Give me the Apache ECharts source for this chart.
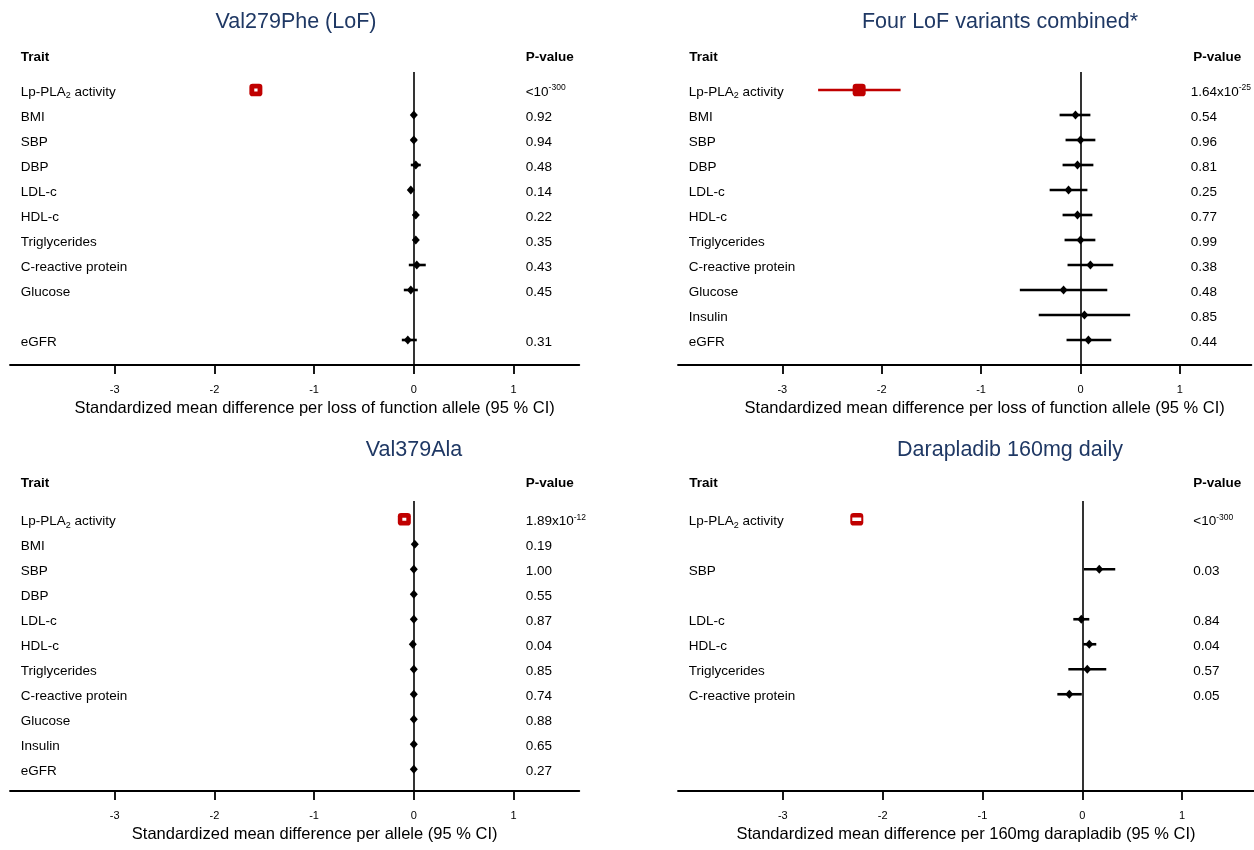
<!DOCTYPE html>
<html><head><meta charset="utf-8">
<script src="https://cdn.jsdelivr.net/npm/echarts@6/dist/echarts.min.js"></script>
<style>html,body{margin:0;padding:0;background:#fff}#c{width:1254px;height:850px}</style>
</head><body><div id="c"></div>
<script>
// ---------- DATA ----------
const traits = ['Lp-PLA2 activity','BMI','SBP','DBP','LDL-c','HDL-c','Triglycerides','C-reactive protein','Glucose','Insulin','eGFR'];
const xTicks = [-3, -2, -1, 0, 1];

const titles = ['Val279Phe (LoF)', 'Four LoF variants combined*', 'Val379Ala', 'Darapladib 160mg daily'];
const axisNames = [
  'Standardized mean difference per loss of function allele (95 % CI)',
  'Standardized mean difference per loss of function allele (95 % CI)',
  'Standardized mean difference per allele (95 % CI)',
  'Standardized mean difference per 160mg darapladib (95 % CI)'
];

// Panel 1: Val279Phe (LoF)  (row = index into traits)
const p1Rows = [0, 1, 2, 3, 4, 5, 6, 7, 8, 10];
const p1Est  = [-1.584, 0.00, 0.00, 0.02, -0.03, 0.02, 0.02, 0.03, -0.03, -0.06];
const p1Lo   = [-1.600, -0.02, -0.03, -0.03, -0.05, 0.00, 0.00, -0.05, -0.10, -0.12];
const p1Hi   = [-1.567, 0.02, 0.03, 0.07, -0.01, 0.04, 0.04, 0.12, 0.04, 0.03];
const p1P    = ['<10^-300', '0.92', '0.94', '0.48', '0.14', '0.22', '0.35', '0.43', '0.45', '0.31'];

// Panel 2: Four LoF variants combined
const p2Rows = [0, 1, 2, 3, 4, 5, 6, 7, 8, 9, 10];
const p2Est  = [-2.227, -0.05, 0.00, -0.03, -0.12, -0.03, 0.00, 0.10, -0.17, 0.04, 0.08];
const p2Lo   = [-2.64, -0.21, -0.15, -0.18, -0.31, -0.18, -0.16, -0.13, -0.61, -0.42, -0.14];
const p2Hi   = [-1.81, 0.10, 0.15, 0.13, 0.07, 0.12, 0.15, 0.33, 0.27, 0.50, 0.31];
const p2P    = ['1.64x10^-25', '0.54', '0.96', '0.81', '0.25', '0.77', '0.99', '0.38', '0.48', '0.85', '0.44'];

// Panel 3: Val379Ala
const p3Rows = [0, 1, 2, 3, 4, 5, 6, 7, 8, 9, 10];
const p3Est  = [-0.095, 0.01, 0.00, 0.00, 0.00, -0.01, 0.00, 0.00, 0.00, 0.00, 0.00];
const p3Lo   = [-0.115, 0.00, -0.01, -0.01, -0.01, -0.02, -0.01, -0.01, -0.01, -0.01, -0.01];
const p3Hi   = [-0.075, 0.02, 0.01, 0.01, 0.01, 0.00, 0.01, 0.01, 0.01, 0.01, 0.01];
const p3P    = ['1.89x10^-12', '0.19', '1.00', '0.55', '0.87', '0.04', '0.85', '0.74', '0.88', '0.65', '0.27'];

// Panel 4: Darapladib 160mg daily
const p4Rows = [0, 2, 4, 5, 6, 7];
const p4Est  = [-2.259, 0.17, -0.01, 0.07, 0.05, -0.13];
const p4Lo   = [-2.304, 0.016, -0.09, 0.01, -0.14, -0.25];
const p4Hi   = [-2.214, 0.33, 0.07, 0.14, 0.24, -0.005];
const p4P    = ['<10^-300', '0.03', '0.84', '0.04', '0.57', '0.05'];

// ---------- LAYOUT / STYLE ----------
const FONT = '"Liberation Sans", Arial, Helvetica, sans-serif';
const TITLE_COLOR = '#1F3864';
const RED = '#c00000';
const layouts = [
  {grid:{left:10, top:72, width:569.3, height:293}, xMin:-4.05, xMax:1.66, yMin:-0.72, yMax:11.0, pMargin:53.6,
   title:[296,22], hdrTraitX:20.7, hdrPX:525.7, hdrY:57.3, nameShift:20, lpBar:'#ffffff', lpBarW:3},
  {grid:{left:678, top:72, width:576, height:293}, xMin:-4.05, xMax:1.72, yMin:-0.72, yMax:11.0, pMargin:60.7,
   title:[1000,22], hdrTraitX:689.3, hdrPX:1193.3, hdrY:57.3, nameShift:20, lpBar:RED, lpBarW:2.5},
  {grid:{left:10, top:501, width:569.3, height:290}, xMin:-4.05, xMax:1.66, yMin:-0.73, yMax:10.87, pMargin:53.6,
   title:[414,450], hdrTraitX:20.7, hdrPX:525.7, hdrY:483.3, nameShift:20, lpBar:'#ffffff', lpBarW:3},
  {grid:{left:678, top:501, width:576, height:290}, xMin:-4.05, xMax:1.72, yMin:-0.73, yMax:10.87, pMargin:60.7,
   title:[1010,450], hdrTraitX:689.3, hdrPX:1193.3, hdrY:483.3, nameShift:0, lpBar:'#ffffff', lpBarW:3.5}
];

const panels = [
  {rows:p1Rows, est:p1Est, lo:p1Lo, hi:p1Hi, p:p1P},
  {rows:p2Rows, est:p2Est, lo:p2Lo, hi:p2Hi, p:p2P},
  {rows:p3Rows, est:p3Est, lo:p3Lo, hi:p3Hi, p:p3P},
  {rows:p4Rows, est:p4Est, lo:p4Lo, hi:p4Hi, p:p4P}
];

function traitRich(name) {
  return name.replace('PLA2', 'PLA{sub|2}');
}
function pRich(s) {
  const i = s.indexOf('^');
  if (i < 0) return s;
  return s.slice(0, i) + '{sup|' + s.slice(i + 1) + '}';
}
const labelRich = {
  sub: {fontSize: 9, lineHeight: 9, verticalAlign: 'bottom', fontFamily: FONT, color: '#000'},
  sup: {fontSize: 8.5, lineHeight: 9, verticalAlign: 'top', fontFamily: FONT, color: '#000'}
};

const grids = [], xAxes = [], yAxes = [], series = [], graphics = [];

function ciRender(color, width) {
  return function (params, api) {
    const y = api.value(2);
    const a = api.coord([api.value(0), y]);
    const b = api.coord([api.value(1), y]);
    return {type: 'line', shape: {x1: a[0], y1: a[1], x2: b[0], y2: b[1]},
            style: {stroke: color, lineWidth: width}};
  };
}

panels.forEach((pd, k) => {
  const L = layouts[k];
  grids.push(Object.assign({containLabel: false}, L.grid));
  xAxes.push({
    gridIndex: k, type: 'value', min: L.xMin, max: L.xMax,
    axisLine: {onZero: false, lineStyle: {color: '#000', width: 1.8}},
    axisTick: {show: true, customValues: xTicks, length: 9, lineStyle: {color: '#000', width: 1.8}},
    axisLabel: {customValues: xTicks, margin: 19, fontSize: 11, color: '#000', fontFamily: FONT},
    splitLine: {show: false},
    name: axisNames[k], nameLocation: 'middle', nameGap: 35,
    nameTextStyle: {fontSize: 16.5, color: '#000', fontFamily: FONT, lineHeight: 17,
                    padding: [0, 0, 0, 2 * L.nameShift]}
  });
  const pMap = {};
  const tMap = {};
  pd.rows.forEach((r, i) => { pMap[r] = pd.p[i]; tMap[r] = traits[r]; });
  yAxes.push({
    gridIndex: k, type: 'value', min: L.yMin, max: L.yMax, inverse: true, position: 'left',
    axisLine: {show: false, onZero: false}, axisTick: {show: false}, splitLine: {show: false},
    axisLabel: {inside: true, margin: 10.7, align: 'left', customValues: pd.rows,
      formatter: v => traitRich(tMap[Math.round(v)] || ''), padding: [4, 0, 0, 0],
      fontSize: 13.5, lineHeight: 17, color: '#000', fontFamily: FONT, rich: labelRich}
  });
  yAxes.push({
    gridIndex: k, type: 'value', min: L.yMin, max: L.yMax, inverse: true, position: 'right',
    axisLine: {show: false, onZero: false}, axisTick: {show: false}, splitLine: {show: false},
    axisLabel: {inside: true, margin: L.pMargin, align: 'left', customValues: pd.rows,
      formatter: v => pRich(pMap[Math.round(v)] || ''), padding: [4, 0, 0, 0],
      fontSize: 13.5, lineHeight: 17, color: '#000', fontFamily: FONT, rich: labelRich}
  });

  const ciData = [], dotData = [], lpData = [], lpCi = [];
  pd.rows.forEach((r, i) => {
    if (r === 0) {
      lpData.push([pd.est[i], r]);
      lpCi.push([pd.lo[i], pd.hi[i], r]);
    } else {
      ciData.push([pd.lo[i], pd.hi[i], r]);
      dotData.push([pd.est[i], r]);
    }
  });
  const yi = 2 * k;
  series.push({
    type: 'custom', xAxisIndex: k, yAxisIndex: yi, data: ciData, z: 3,
    encode: {x: [0, 1], y: 2}, renderItem: ciRender('#000', 2.6), silent: true,
    markLine: {silent: true, symbol: 'none', z: 2, animation: false,
      label: {show: false}, lineStyle: {color: '#000', width: 1.6, type: 'solid'},
      data: [{xAxis: 0}]}
  });
  series.push({
    type: 'scatter', xAxisIndex: k, yAxisIndex: yi, data: dotData, z: 4,
    symbol: 'diamond', symbolSize: [8, 9], itemStyle: {color: '#000', opacity: 1}, silent: true
  });
  const lpAbove = L.lpBar !== RED;
  series.push({
    type: 'custom', xAxisIndex: k, yAxisIndex: yi, data: lpCi, z: lpAbove ? 6 : 4,
    encode: {x: [0, 1], y: 2}, renderItem: ciRender(L.lpBar, L.lpBarW), silent: true
  });
  series.push({
    type: 'scatter', xAxisIndex: k, yAxisIndex: yi, data: lpData, z: 5,
    symbol: 'roundRect', symbolSize: [13, 12.5], itemStyle: {color: RED, opacity: 1}, silent: true
  });

  graphics.push({type: 'text', x: L.title[0], y: L.title[1],
    style: {text: titles[k], font: '21.5px ' + FONT, fill: TITLE_COLOR, align: 'center', verticalAlign: 'middle'}});
  graphics.push({type: 'text', x: L.hdrTraitX, y: L.hdrY,
    style: {text: 'Trait', font: 'bold 13.5px ' + FONT, fill: '#000', align: 'left', verticalAlign: 'middle'}});
  graphics.push({type: 'text', x: L.hdrPX, y: L.hdrY,
    style: {text: 'P-value', font: 'bold 13.5px ' + FONT, fill: '#000', align: 'left', verticalAlign: 'middle'}});
});

const chart = echarts.init(document.getElementById('c'), null, {renderer: 'canvas'});
chart.setOption({
  backgroundColor: '#fff',
  animation: false,
  textStyle: {fontFamily: FONT},
  grid: grids, xAxis: xAxes, yAxis: yAxes, series: series, graphic: graphics
});
</script>
</body></html>
